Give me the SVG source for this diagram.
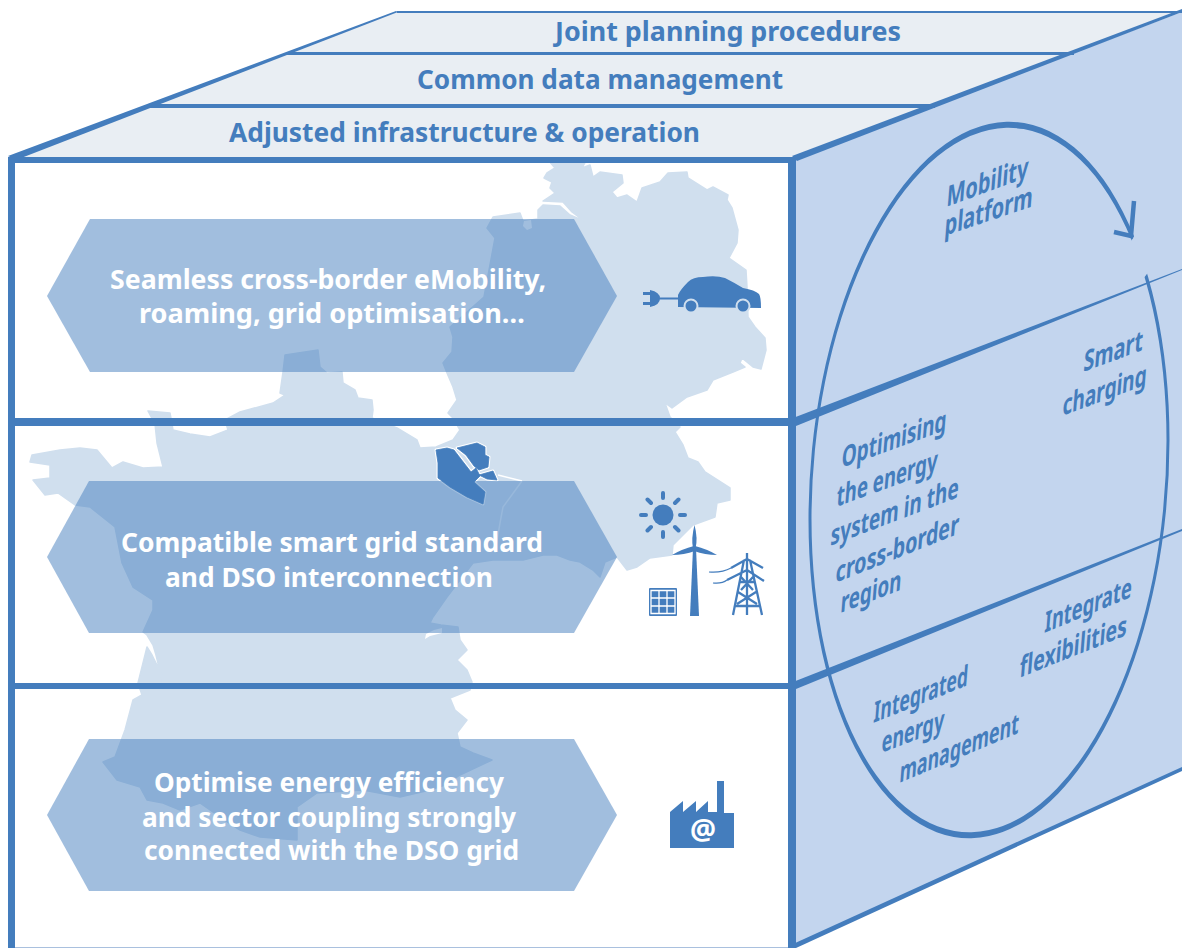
<svg xmlns="http://www.w3.org/2000/svg" width="1182" height="948" viewBox="0 0 1182 948">
<style>
text{font-family:"Noto Sans","Open Sans","Liberation Sans",sans-serif;font-weight:700}
.t{fill:#447dbd;font-size:26.5px}
.w{fill:#fff;font-size:26.5px}
.s{fill:#447dbd;font-size:29px}
.hex{fill:#447dbd;fill-opacity:.5}
.blue{fill:#447dbd}
.band{fill:#e9eef3}
</style>
<defs>
<clipPath id="gap"><path clip-rule="evenodd" d="M780,100H1182V860H780Z M989,480L1205,117L1222,176Z"/></clipPath>
</defs>
<rect width="1182" height="948" fill="#fff"/>
<g id="map">
<path fill="#d0dfee" stroke="#d0dfee" stroke-width="1.500" stroke-linejoin="round" d="M549,161L586,161L582,168L590,165L593,177L600,172L622,175L623,183L612,192L617,198L627,195L637,202L642,188L660,182L668,173L687,172L688,178L707,190L713,187L728,195L727,200L732,208L738,230L737,243L729,258L746,270L747,287L748,317L755,327L765,338L766,350L761,369L753,367L742,358L740,363L745,367L733,372L713,380L707,390L687,397L672,408L665,403L670,417L680,427L675,432L683,445L688,458L698,462L705,472L730,488L730,500L717,503L715,517L693,525L673,545L672,555L650,558L637,567L627,570L617,557L605,562L600,577L593,570L580,562L570,560L557,555L543,555L523,560L493,560L473,563L447,597L433,617L430,623L441,625L458,627L460,640L467,650L457,660L467,670L472,682L470,690L450,698L455,710L467,720L457,733L460,747L473,753L492,760L460,775L445,785L430,790L400,797L363,790L317,793L297,807L297,840L260,837L240,830L220,817L200,803L180,810L163,803L147,800L140,787L117,780L103,762L115,757L125,730L133,700L142,695L138,683L147,647L152,655L157,665L163,677L163,684L156,655L153,645L147,635L143,632L153,610L153,600L133,587L122,563L115,527L90,507L75,505L58,493L45,495L33,480L50,478L50,465L30,462L32,455L60,450L80,448L97,450L112,468L123,462L143,468L163,467L157,443L155,424L148,411L170,413L172,424L173,430L190,434L210,437L228,430L225,420L240,412L273,403L285,395L280,393L283,372L285,355L318,350L320,367L327,373L342,372L343,383L355,390L358,398L372,400L373,410L372,418L397,428L417,440L420,448L436,447L453,440L460,430L453,418L448,413L457,400L453,387L447,373L443,363L452,352L453,337L450,327L484,297L495,238L487,228L493,217L520,213L523,221L538,219L538,210L543,205L560,206L570,215L584,221L572,212L563,202L543,201L555,193L550,188L552,182L544,178L547,173L555,168Z"/>
<path fill="#fff" d="M430,636L442,633L442,628L434,630L426,634L425,639ZM524,221L531,220L532,228L527,230L523,226Z"/>
<path fill="none" stroke="#fff" stroke-width="1.500" d="M498,475L522,481"/>
<path fill="none" stroke="#fff" stroke-opacity=".6" stroke-width="1.500" d="M522,481L503,507L500,523L495,553"/>
<g fill="#fff" stroke="#fff" stroke-width="3" stroke-linejoin="round">
<path d="M436,450L447,448L454,450L464,463L471,472L476,468L480,476L474,482L485,492L483,504L467,497L450,487L438,478L438,463Z"/>
<path d="M457,448L477,443L485,447L485,455L489,457L488,467L479,470L474,466L466,455Z"/>
<path d="M479,475L493,471L497,480L487,479Z"/>
</g>
</g>
<g id="hexagon-mobility"><polygon class="hex" points="47,296 90,219 574,219 617,296 574,372 90,372"/></g>
<g id="hexagon-smartgrid"><polygon class="hex" points="47,557 89,481 574,481 617,557 574,633 89,633"/></g>
<g id="hexagon-efficiency"><polygon class="hex" points="47,815 89,739 574,739 617,815 574,891 89,891"/></g>
<g id="border-region" class="blue" stroke="#447dbd" stroke-width=".8" stroke-linejoin="round">
<path d="M436,450L447,448L454,450L464,463L471,472L476,468L480,476L474,482L485,492L483,504L467,497L450,487L438,478L438,463Z"/>
<path d="M457,448L477,443L485,447L485,455L489,457L488,467L479,470L474,466L466,455Z"/>
<path d="M479,475L493,471L497,480L487,479Z"/>
</g>
<g id="right-face"><polygon fill="#c3d5ee" points="795,158 1182,11 1182,770 795,947"/></g>
<g id="band-joint"><polygon class="band" points="397,12 1182,12 1074,53 287,53"/><text class="t" x="555" y="41" textLength="346" lengthAdjust="spacingAndGlyphs">Joint planning procedures</text></g>
<g id="band-data"><polygon class="band" points="287,53 1074,53 935,106 149,106"/><text class="t" x="417" y="89" textLength="366" lengthAdjust="spacingAndGlyphs">Common data management</text></g>
<g id="band-infra"><polygon class="band" points="149,106 935,106 795,158 10,158"/><text class="t" x="229" y="142" textLength="471" lengthAdjust="spacingAndGlyphs">Adjusted infrastructure &amp; operation</text></g>
<g id="connectors">
<g class="blue">
<polygon points="8,156 396,11 398,12 16,160"/>
<polygon points="792,156 1182,9 1182,12 797,161"/>
<polygon points="793,418 1182,269 1182,270 796,426"/>
<polygon points="793,682 1182,529 1182,531 796,689"/>
<polygon points="793,944 1182,767 1182,771 796,948"/>
<rect x="397" y="11" width="785" height="2"/>
<rect x="287" y="52" width="787" height="3"/>
<rect x="149" y="104" width="786" height="4"/>
<rect x="8" y="157" width="788" height="6"/>
<rect x="8" y="157" width="7" height="791"/>
<rect x="788" y="157" width="8" height="791"/>
<rect x="12" y="418" width="780" height="8"/>
<rect x="12" y="683" width="780" height="6"/>
</g>
<rect x="15" y="947" width="773" height="1" fill="#a9c0de"/>
<g clip-path="url(#gap)"><path class="blue" fill-rule="evenodd" d="M0,-356A180.5,356 0 1 1 0,356A180.5,356 0 1 1 0,-356ZM0,-350A177.5,350 0 1 0 0,350A177.5,350 0 1 0 0,-350Z" transform="matrix(1,-0.22,0,1,989,480)"/></g>
<polyline points="1134,201 1131,236 1114,232" fill="none" stroke="#447dbd" stroke-width="4.500"/>
</g>
<g id="labels-side">
<text class="s" textLength="102" lengthAdjust="spacingAndGlyphs" transform="matrix(.8,-.293,-.08,1,946,207)">Mobility</text>
<text class="s" textLength="110" lengthAdjust="spacingAndGlyphs" transform="matrix(.8,-.27,-.08,1,944,236)">platform</text>
<text class="s" textLength="74" lengthAdjust="spacingAndGlyphs" transform="matrix(.8,-.296,-.08,1,1083,372)">Smart</text>
<text class="s" textLength="105" lengthAdjust="spacingAndGlyphs" transform="matrix(.8,-.3,-.08,1,1062,416)">charging</text>
<text class="s" textLength="131" lengthAdjust="spacingAndGlyphs" transform="matrix(.8,-.29,-.08,1,841,468)">Optimising</text>
<text class="s" textLength="126" lengthAdjust="spacingAndGlyphs" transform="matrix(.8,-.293,-.08,1,836,507)">the energy</text>
<text class="s" textLength="160" lengthAdjust="spacingAndGlyphs" transform="matrix(.8,-.305,-.08,1,830,546)">system in the</text>
<text class="s" textLength="154" lengthAdjust="spacingAndGlyphs" transform="matrix(.8,-.32,-.08,1,835,583)">cross-border</text>
<text class="s" textLength="76" lengthAdjust="spacingAndGlyphs" transform="matrix(.8,-.305,-.08,1,840,613)">region</text>
<text class="s" textLength="109" lengthAdjust="spacingAndGlyphs" transform="matrix(.8,-.33,-.08,1,1044,633)">Integrate</text>
<text class="s" textLength="134" lengthAdjust="spacingAndGlyphs" transform="matrix(.8,-.32,-.08,1,1019,678)">flexibilities</text>
<text class="s" textLength="118" lengthAdjust="spacingAndGlyphs" transform="matrix(.8,-.32,-.08,1,873,723)">Integrated</text>
<text class="s" textLength="78" lengthAdjust="spacingAndGlyphs" transform="matrix(.8,-.3,-.08,1,881,753)">energy</text>
<text class="s" textLength="149" lengthAdjust="spacingAndGlyphs" transform="matrix(.8,-.336,-.08,1,899,783)">management</text>
</g>
<g id="labels-hexagons">
<text class="w" x="110" y="289" textLength="436" lengthAdjust="spacingAndGlyphs">Seamless cross-border eMobility,</text>
<text class="w" x="139" y="323" textLength="386" lengthAdjust="spacingAndGlyphs">roaming, grid optimisation…</text>
<text class="w" x="121" y="552" textLength="422" lengthAdjust="spacingAndGlyphs">Compatible smart grid standard</text>
<text class="w" x="165" y="587" textLength="328" lengthAdjust="spacingAndGlyphs">and DSO interconnection</text>
<text class="w" x="154" y="792" textLength="350" lengthAdjust="spacingAndGlyphs">Optimise energy efficiency</text>
<text class="w" x="142" y="827" textLength="374" lengthAdjust="spacingAndGlyphs">and sector coupling strongly</text>
<text class="w" x="144" y="860" textLength="375" lengthAdjust="spacingAndGlyphs">connected with the DSO grid</text>
</g>
<g id="icon-car">
<path class="blue" d="M678,307L678,295Q680,290 688,282Q693,277 703,277Q716,275 725,278Q733,282 743,288Q755,290 759,294Q761,297 761,308L678,307Z"/>
<circle class="blue" cx="691" cy="306" r="6.500" stroke="#d0dfee" stroke-width="2"/>
<circle class="blue" cx="743" cy="306" r="6.500" stroke="#d0dfee" stroke-width="2"/>
<path class="blue" d="M650,290Q660,292 660,298.500Q660,305 650,307ZM643,292H651V295H643ZM643,302H651V305H643ZM658,297.500H679V299.500H658Z"/>
</g>
<g id="icon-sun">
<circle class="blue" cx="663" cy="515" r="10.500"/>
<path fill="none" stroke="#447dbd" stroke-width="4" stroke-linecap="round" d="M663,493V498M663,532V537M641,515H646M680,515H685M647.500,499.500L651,503M675,527L678.500,530.500M678.500,499.500L675,503M651,527L647.500,530.500"/>
</g>
<g id="icon-panel">
<rect class="blue" x="649" y="588" width="28" height="28" rx="1"/>
<path fill="none" stroke="#fff" stroke-width="1.300" d="M651,590.500H675V613.500H651ZM651,598H675M651,606H675M659,590.500V613.500M667,590.500V613.500"/>
</g>
<g id="icon-turbine" class="blue">
<polygon points="693,548 696,548 699,616 690,616"/>
<path d="M694.500,525Q698,538 695.500,549H693Q691,538 694.500,525Z"/>
<path d="M694,546Q682,549 672,555Q684,555 695,551Z"/>
<path d="M695,546Q707,549 717,555Q705,555 694,551Z"/>
</g>
<g id="icon-pylon">
<path fill="none" stroke="#447dbd" stroke-width="2.300" d="M747,553V615M744,560L733,615M750,560L762,615M740,582H754M738,592L757,604M756,592L737,604M735,606L760,606M741,577L753,590M753,577L741,590M747,559L731,568M747,559L763,568M747,570L727,580M747,570L764,581"/>
<path fill="none" stroke="#447dbd" stroke-width="1.200" d="M709,572Q722,573 731,568M713,583Q722,584 727,580"/>
</g>
<g id="icon-factory">
<polygon class="blue" points="670,812 683,801 683,812 696,801 696,812 708,801 708,812 717,812 717,781 724,781 724,813 734,813 734,848 670,848"/>
<text x="703" y="840" text-anchor="middle" style="font-size:29px;fill:#fff">@</text>
</g>
</svg>
